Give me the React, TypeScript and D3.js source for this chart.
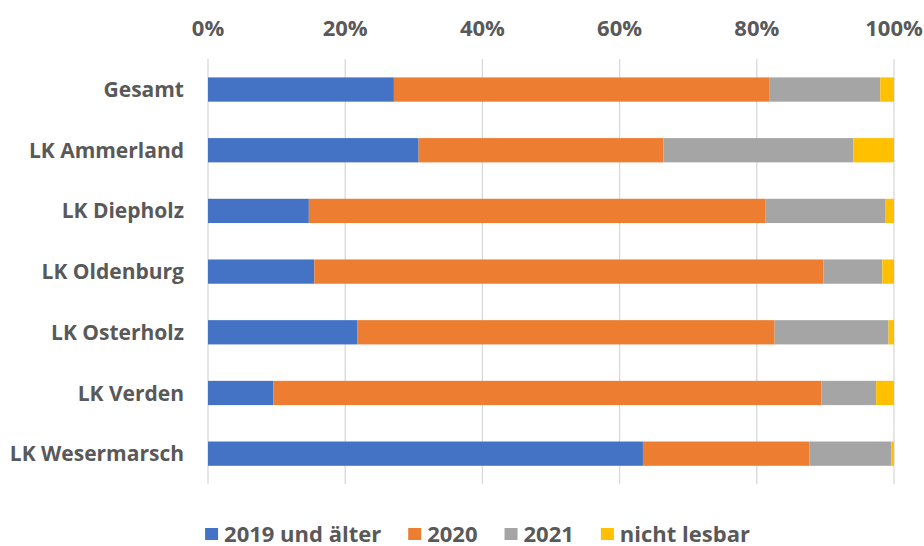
import React, { useEffect, useRef } from 'react'
import * as d3 from 'd3'

const categories = ['Gesamt', 'LK Ammerland', 'LK Diepholz', 'LK Oldenburg', 'LK Osterholz', 'LK Verden', 'LK Wesermarsch']
const seriesNames = ['2019 und älter', '2020', '2021', 'nicht lesbar']
const v2019 = [27.1, 30.7, 14.7, 15.5, 21.8, 9.5, 63.4]
const v2020 = [54.7, 35.7, 66.6, 74.2, 60.8, 79.9, 24.3]
const v2021 = [16.2, 27.7, 17.4, 8.6, 16.6, 8.0, 11.9]
const vUnreadable = [2.0, 5.9, 1.3, 1.7, 0.8, 2.6, 0.4]
const colors = ['#4472C4', '#ED7D31', '#A5A5A5', '#FFC000']
const ticks = [0, 20, 40, 60, 80, 100]

const W = 924
const H = 546
const textColor = '#595959'
const font = '"Open Sans", sans-serif'

const App = () => {
  const ref = useRef<SVGSVGElement>(null)

  useEffect(() => {
    const svg = d3.select(ref.current)
    svg.selectAll('*').remove()

    const x = d3.scaleLinear().domain([0, 100]).range([208, 894])
    const y = d3.scaleBand().domain(categories).range([59.2, 484]).paddingInner(0.6).paddingOuter(0.3)

    const rows = categories.map((c, i) => ({
      cat: c,
      s0: v2019[i], s1: v2020[i], s2: v2021[i], s3: vUnreadable[i]
    }))
    const stack = d3.stack<any>().keys(['s0', 's1', 's2', 's3'])(rows)

    // gridlines
    svg.append('g').selectAll('line').data(ticks).join('line')
      .attr('x1', d => x(d)).attr('x2', d => x(d))
      .attr('y1', 59).attr('y2', 484)
      .attr('stroke', '#D9D9D9').attr('stroke-width', 1.3)

    // tick labels on top
    svg.append('g').selectAll('text').data(ticks).join('text')
      .attr('x', d => x(d)).attr('y', 36)
      .attr('text-anchor', 'middle')
      .attr('font-family', font).attr('font-weight', 700).attr('font-size', 22)
      .attr('fill', textColor)
      .text(d => d + '%')

    // bars
    svg.append('g').selectAll('g').data(stack).join('g')
      .attr('fill', (d, i) => colors[i])
      .selectAll('rect').data(d => d).join('rect')
      .attr('x', d => x(d[0]))
      .attr('width', d => x(d[1]) - x(d[0]))
      .attr('y', d => y(d.data.cat)!)
      .attr('height', y.bandwidth())

    // category labels
    svg.append('g').selectAll('text').data(categories).join('text')
      .attr('x', 184).attr('y', d => y(d)! + y.bandwidth() / 2)
      .attr('dy', '0.36em')
      .attr('text-anchor', 'end')
      .attr('font-family', font).attr('font-weight', 700).attr('font-size', 21)
      .attr('fill', textColor)
      .text(d => d)

    // legend
    const legend = svg.append('g')
    let lx = 0
    seriesNames.forEach((name, i) => {
      const item = legend.append('g').attr('transform', `translate(${lx},0)`)
      item.append('rect').attr('x', 0).attr('y', 528).attr('width', 13).attr('height', 12).attr('fill', colors[i])
      const t = item.append('text')
        .attr('x', 19).attr('y', 541.5)
        .attr('font-family', font).attr('font-weight', 700).attr('font-size', 22)
        .attr('fill', textColor)
        .text(name)
      const tw = (t.node() as SVGTextElement).getComputedTextLength()
      lx += 19 + tw + 27
    })
    const total = lx - 27
    legend.attr('transform', `translate(${477.5 - total / 2},0)`)
  }, [])

  return (
    <svg ref={ref} width={W} height={H} style={{ position: 'absolute', left: 0, top: 0 }} />
  )
}

export default App
